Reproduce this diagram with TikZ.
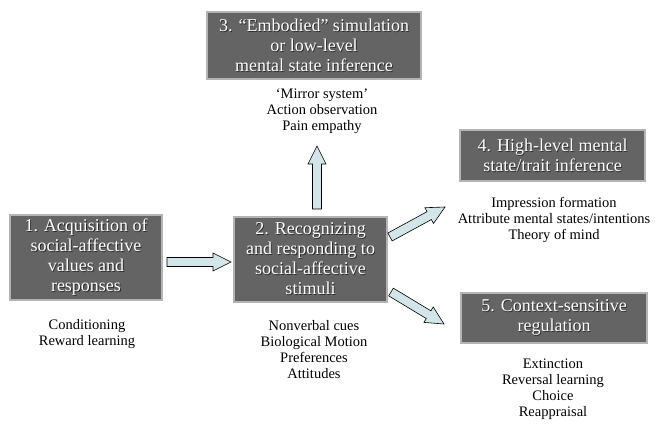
\documentclass[tikz,border=0pt]{standalone}
\usepackage{fontspec}
\setmainfont{Liberation Serif}
\newfontfamily\timesfont{Liberation Serif}
\usetikzlibrary{calc}
\definecolor{boxgray}{HTML}{646464}
\definecolor{boxedge}{HTML}{B4B4B4}
\definecolor{arrowfill}{HTML}{D2E5E8}
\definecolor{textshadow}{HTML}{2A2A2A}
\tikzset{
  stagebox/.style={draw=boxedge, line width=1.2pt, fill=boxgray, text=white,
    align=center, inner sep=0pt, font=\timesfont\fontsize{18}{20}\selectfont},
  notes/.style={align=center, inner sep=0pt, font=\timesfont\fontsize{14.5}{16}\selectfont},
  blockarrow/.style={draw=black, line width=0.6pt, fill=arrowfill, line join=miter}
}
% white text with a soft dark shadow
\newcommand\shd[1]{\makebox[0pt][l]{\raisebox{-0.9pt}{\hspace{0.9pt}\textcolor{textshadow}{#1}}}#1}
% block arrow from #1 to #2 (half shaft 4.5, half head 9, head length 18)
\newcommand\connectarrow[2]{%
  \coordinate (neck) at ($(#2)!18pt!(#1)$);
  \path[blockarrow]
    ($(#1)!4.5pt!90:(#2)$) -- ($(neck)!4.5pt!90:(#2)$) -- ($(neck)!9pt!90:(#2)$)
    -- (#2) -- ($(neck)!9pt!-90:(#2)$) -- ($(neck)!4.5pt!-90:(#2)$)
    -- ($(#1)!4.5pt!-90:(#2)$) -- cycle;}
\begin{document}
\begin{tikzpicture}[x=1pt,y=-1pt]
\useasboundingbox (0,0) rectangle (655,423);
\fill[white] (0,0) rectangle (655,423);
% boxes
\node[stagebox, minimum width=152pt, minimum height=85pt] (b1) at (86,257.5)
  {\shd{1. Acquisition of}\\\shd{social-affective}\\\shd{values and}\\\shd{responses}};
\node[stagebox, minimum width=153pt, minimum height=85pt] (b2) at (310.5,259.5)
  {\shd{2. Recognizing}\\\shd{and responding to}\\\shd{social-affective}\\\shd{stimuli}};
\node[stagebox, minimum width=214pt, minimum height=67pt] (b3) at (314,45.5)
  {\shd{3. “Embodied” simulation}\\\shd{or low-level}\\\shd{mental state inference}};
\node[stagebox, minimum width=185pt, minimum height=51pt] (b4) at (552.5,155.5)
  {\shd{4. High-level mental}\\\shd{state/trait inference}};
\node[stagebox, minimum width=186pt, minimum height=50pt] (b5) at (554,318)
  {\shd{5. Context-sensitive}\\\shd{regulation}};
% notes
\node[notes] (n1) at (87,334) {Conditioning\\Reward learning};
\node[notes] (n2) at (314,350) {Nonverbal cues\\Biological Motion\\Preferences\\Attitudes};
\node[notes] (n3) at (322,111) {‘Mirror system’\\Action observation\\Pain empathy};
\node[notes] (n4) at (554,220) {Impression formation\\Attribute mental states/intentions\\Theory of mind};
\node[notes] (n5) at (553,389) {Extinction\\Reversal learning\\Choice\\Reappraisal};
% arrow end points
\coordinate (a1s) at (167,262); \coordinate (a1e) at (231,262);
\coordinate (a2s) at (317,209); \coordinate (a2e) at (317,146);
\coordinate (a3s) at (390,237); \coordinate (a3e) at (445,207);
\coordinate (a4s) at (391,292); \coordinate (a4e) at (444,324);
\connectarrow{a1s}{a1e}
\connectarrow{a2s}{a2e}
\connectarrow{a3s}{a3e}
\connectarrow{a4s}{a4e}
\end{tikzpicture}
\end{document}
